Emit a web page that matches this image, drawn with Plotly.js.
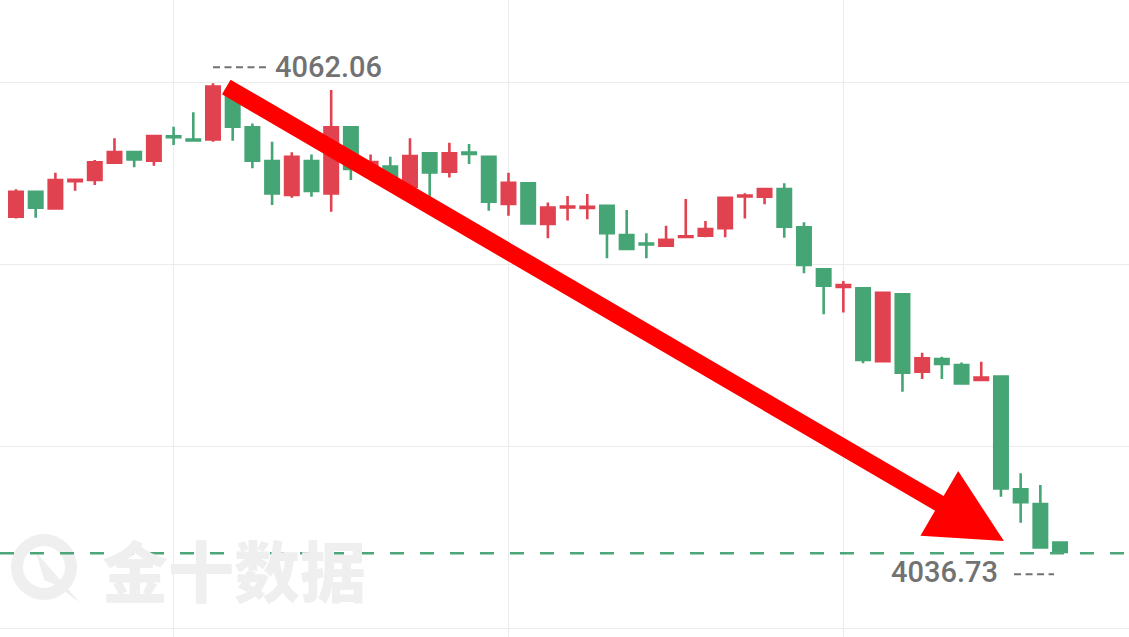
<!DOCTYPE html>
<html>
<head>
<meta charset="utf-8">
<script src="https://cdn.plot.ly/plotly-3.0.1.min.js"></script>
<style>
  html, body { margin: 0; padding: 0; background: #ffffff; }
  #chart { width: 1129px; height: 637px; }
</style>
</head>
<body>
<div id="chart"></div>
<script>
// ---- data ----
const opens = [4054.87, 4056.22, 4055.32, 4056.79, 4056.85, 4057.78, 4058.36, 4057.89, 4059.20, 4059.03,
               4059.04, 4061.52, 4059.69, 4057.87, 4056.04, 4057.87, 4056.13, 4059.69, 4057.50, 4057.57,
               4056.49, 4058.29, 4057.30, 4058.33, 4058.10, 4055.56, 4056.67, 4054.48, 4055.37, 4055.34,
               4055.46, 4053.88, 4053.43, 4053.31, 4053.78, 4053.85, 4054.25, 4055.96, 4055.95, 4056.36,
               4054.30, 4052.04, 4051.08, 4051.01, 4047.09, 4050.69, 4046.52, 4047.20, 4046.88, 4046.07,
               4046.25, 4040.18, 4039.39, 4037.31];
const highs = [4056.35, 4056.26, 4057.24, 4056.89, 4057.93, 4059.10, 4058.38, 4059.25, 4059.72, 4060.50,
               4062.06, 4061.59, 4059.90, 4058.91, 4058.34, 4058.23, 4061.70, 4059.69, 4058.23, 4058.10,
               4059.10, 4058.32, 4058.86, 4058.79, 4058.10, 4057.24, 4056.67, 4055.63, 4055.99, 4056.09,
               4055.46, 4055.23, 4053.98, 4054.39, 4055.82, 4054.64, 4055.95, 4056.13, 4056.36, 4056.67,
               4054.57, 4052.04, 4051.41, 4051.01, 4050.80, 4050.69, 4047.54, 4047.33, 4047.02, 4047.06,
               4046.25, 4041.04, 4040.41, 4037.32];
const lows  = [4054.78, 4054.82, 4055.31, 4056.27, 4056.58, 4057.75, 4057.53, 4057.62, 4058.73, 4058.95,
               4058.91, 4058.97, 4057.48, 4055.50, 4055.89, 4055.95, 4055.14, 4056.85, 4057.28, 4056.31,
               4056.31, 4055.95, 4056.99, 4057.71, 4055.19, 4054.92, 4054.46, 4053.71, 4054.66, 4054.73,
               4052.63, 4053.10, 4052.63, 4053.29, 4053.76, 4053.76, 4053.76, 4054.78, 4055.54, 4053.74,
               4051.82, 4049.61, 4049.71, 4046.97, 4047.07, 4045.44, 4046.12, 4046.12, 4045.84, 4046.05,
               4039.78, 4038.38, 4037.00, 4036.73];
const closes = [4056.22, 4055.36, 4056.85, 4056.86, 4057.80, 4058.36, 4057.96, 4059.22, 4059.15, 4058.98,
                4061.88, 4059.72, 4057.89, 4056.13, 4058.10, 4056.26, 4059.69, 4057.44, 4057.82, 4056.53,
                4058.14, 4057.26, 4058.29, 4058.25, 4055.68, 4056.70, 4054.51, 4055.36, 4055.42, 4055.40,
                4053.98, 4053.13, 4053.37, 4053.62, 4053.81, 4054.21, 4055.89, 4056.01, 4056.36, 4054.33,
                4052.27, 4051.15, 4051.19, 4047.15, 4050.77, 4046.46, 4047.24, 4046.93, 4045.89, 4046.20,
                4040.23, 4039.48, 4037.05, 4036.80];
const periodHigh = 4062.06;
const periodLow = 4036.73;
const highLabel = "4062.06";
const lowLabel = "4036.73";
const watermarkText = "金十数据";

// bar index positions
const xs = opens.map((_, i) => i);
const hiIdx = highs.indexOf(Math.max(...highs));
const loIdx = lows.indexOf(Math.min(...lows));

const RED = "#E1424F";
const GREEN = "#45A574";
const GRAY = "#727272";

const trace = {
  type: "candlestick",
  x: xs, open: opens, high: highs, low: lows, close: closes,
  increasing: { line: { color: RED, width: 2.6 }, fillcolor: RED },
  decreasing: { line: { color: GREEN, width: 2.6 }, fillcolor: GREEN },
  whiskerwidth: 0,
  hoverinfo: "skip",
  showlegend: false
};

const W = 1129, H = 637;
const px = v => v / W;          // decoration helpers (paper coords)
const py = v => 1 - v / H;

const layout = {
  width: W, height: H,
  margin: { l: 0, r: 0, t: 0, b: 0, pad: 0 },
  paper_bgcolor: "#ffffff",
  plot_bgcolor: "#ffffff",
  showlegend: false,
  boxgap: 0.2,
  boxgroupgap: 0.15,
  xaxis: {
    range: [-0.812, 56.5],
    tickmode: "linear", tick0: 8, dtick: 17,
    showgrid: true, gridcolor: "#ebebeb", gridwidth: 1,
    showticklabels: false, zeroline: false, showline: false, ticks: "",
    rangeslider: { visible: false }, fixedrange: true
  },
  yaxis: {
    range: [4032.22, 4066.55],
    tickmode: "linear", tick0: 4032.70, dtick: 9.81,
    showgrid: true, gridcolor: "#ebebeb", gridwidth: 1,
    showticklabels: false, zeroline: false, showline: false, ticks: "",
    fixedrange: true
  },
  shapes: [
    // watermark logo
    { type: "circle", xref: "paper", yref: "paper", layer: "below",
      x0: px(17), x1: px(71), y0: py(540), y1: py(594),
      line: { color: "#efefef", width: 12 }, fillcolor: "rgba(0,0,0,0)" },
    { type: "path", xref: "paper", yref: "paper", layer: "below",
      path: `M ${px(36)},${py(552)} L ${px(80)},${py(603)} L ${px(58)},${py(586)} L ${px(44)},${py(580)} Z`,
      line: { width: 0 }, fillcolor: "#efefef" },
    // low level dashed line
    { type: "line", xref: "paper", yref: "y", x0: 0, x1: 1, y0: periodLow, y1: periodLow,
      line: { color: "#4DA57A", width: 2.4, dash: "14px,16px" } },
    // high marker dashes
    { type: "line", xref: "x", yref: "y", xsizemode: "pixel", xanchor: hiIdx,
      ysizemode: "pixel", yanchor: periodHigh,
      x0: 0, x1: 56, y0: 16, y1: 16,
      line: { color: GRAY, width: 2, dash: "7px,4.5px" } },
    // low marker dashes
    { type: "line", xref: "x", yref: "y", xsizemode: "pixel", xanchor: loIdx,
      ysizemode: "pixel", yanchor: periodLow,
      x0: -46, x1: -6, y0: -21, y1: -21,
      line: { color: GRAY, width: 2, dash: "7px,4.5px" } }
  ],
  annotations: [
    { text: watermarkText, xref: "paper", yref: "paper", x: px(234), y: py(568),
      xanchor: "center", yanchor: "middle", showarrow: false,
      font: { family: "Noto Sans CJK SC", size: 66, color: "#efefef", weight: 900 } },
    { text: highLabel, xref: "x", yref: "y", x: hiIdx, y: periodHigh,
      xanchor: "left", yanchor: "middle", xshift: 60, yshift: 16, showarrow: false,
      font: { family: "Roboto", size: 29, color: GRAY, weight: 500 } },
    { text: lowLabel, xref: "x", yref: "y", x: loIdx, y: periodLow,
      xanchor: "right", yanchor: "middle", xshift: -60, yshift: -19, showarrow: false,
      font: { family: "Roboto", size: 29, color: GRAY, weight: 500 } },
    // trend arrow
    { text: "", xref: "x", yref: "y", axref: "x", ayref: "y",
      x: 50.15, y: 4037.39, ax: 10.6, ay: 4061.91,
      showarrow: true, arrowhead: 2, arrowsize: 0.88, arrowwidth: 17, arrowcolor: "#FF0000",
      standoff: 0 }
  ]
};

Plotly.newPlot("chart", [trace], layout, { staticPlot: true, displayModeBar: false });
</script>
</body>
</html>
